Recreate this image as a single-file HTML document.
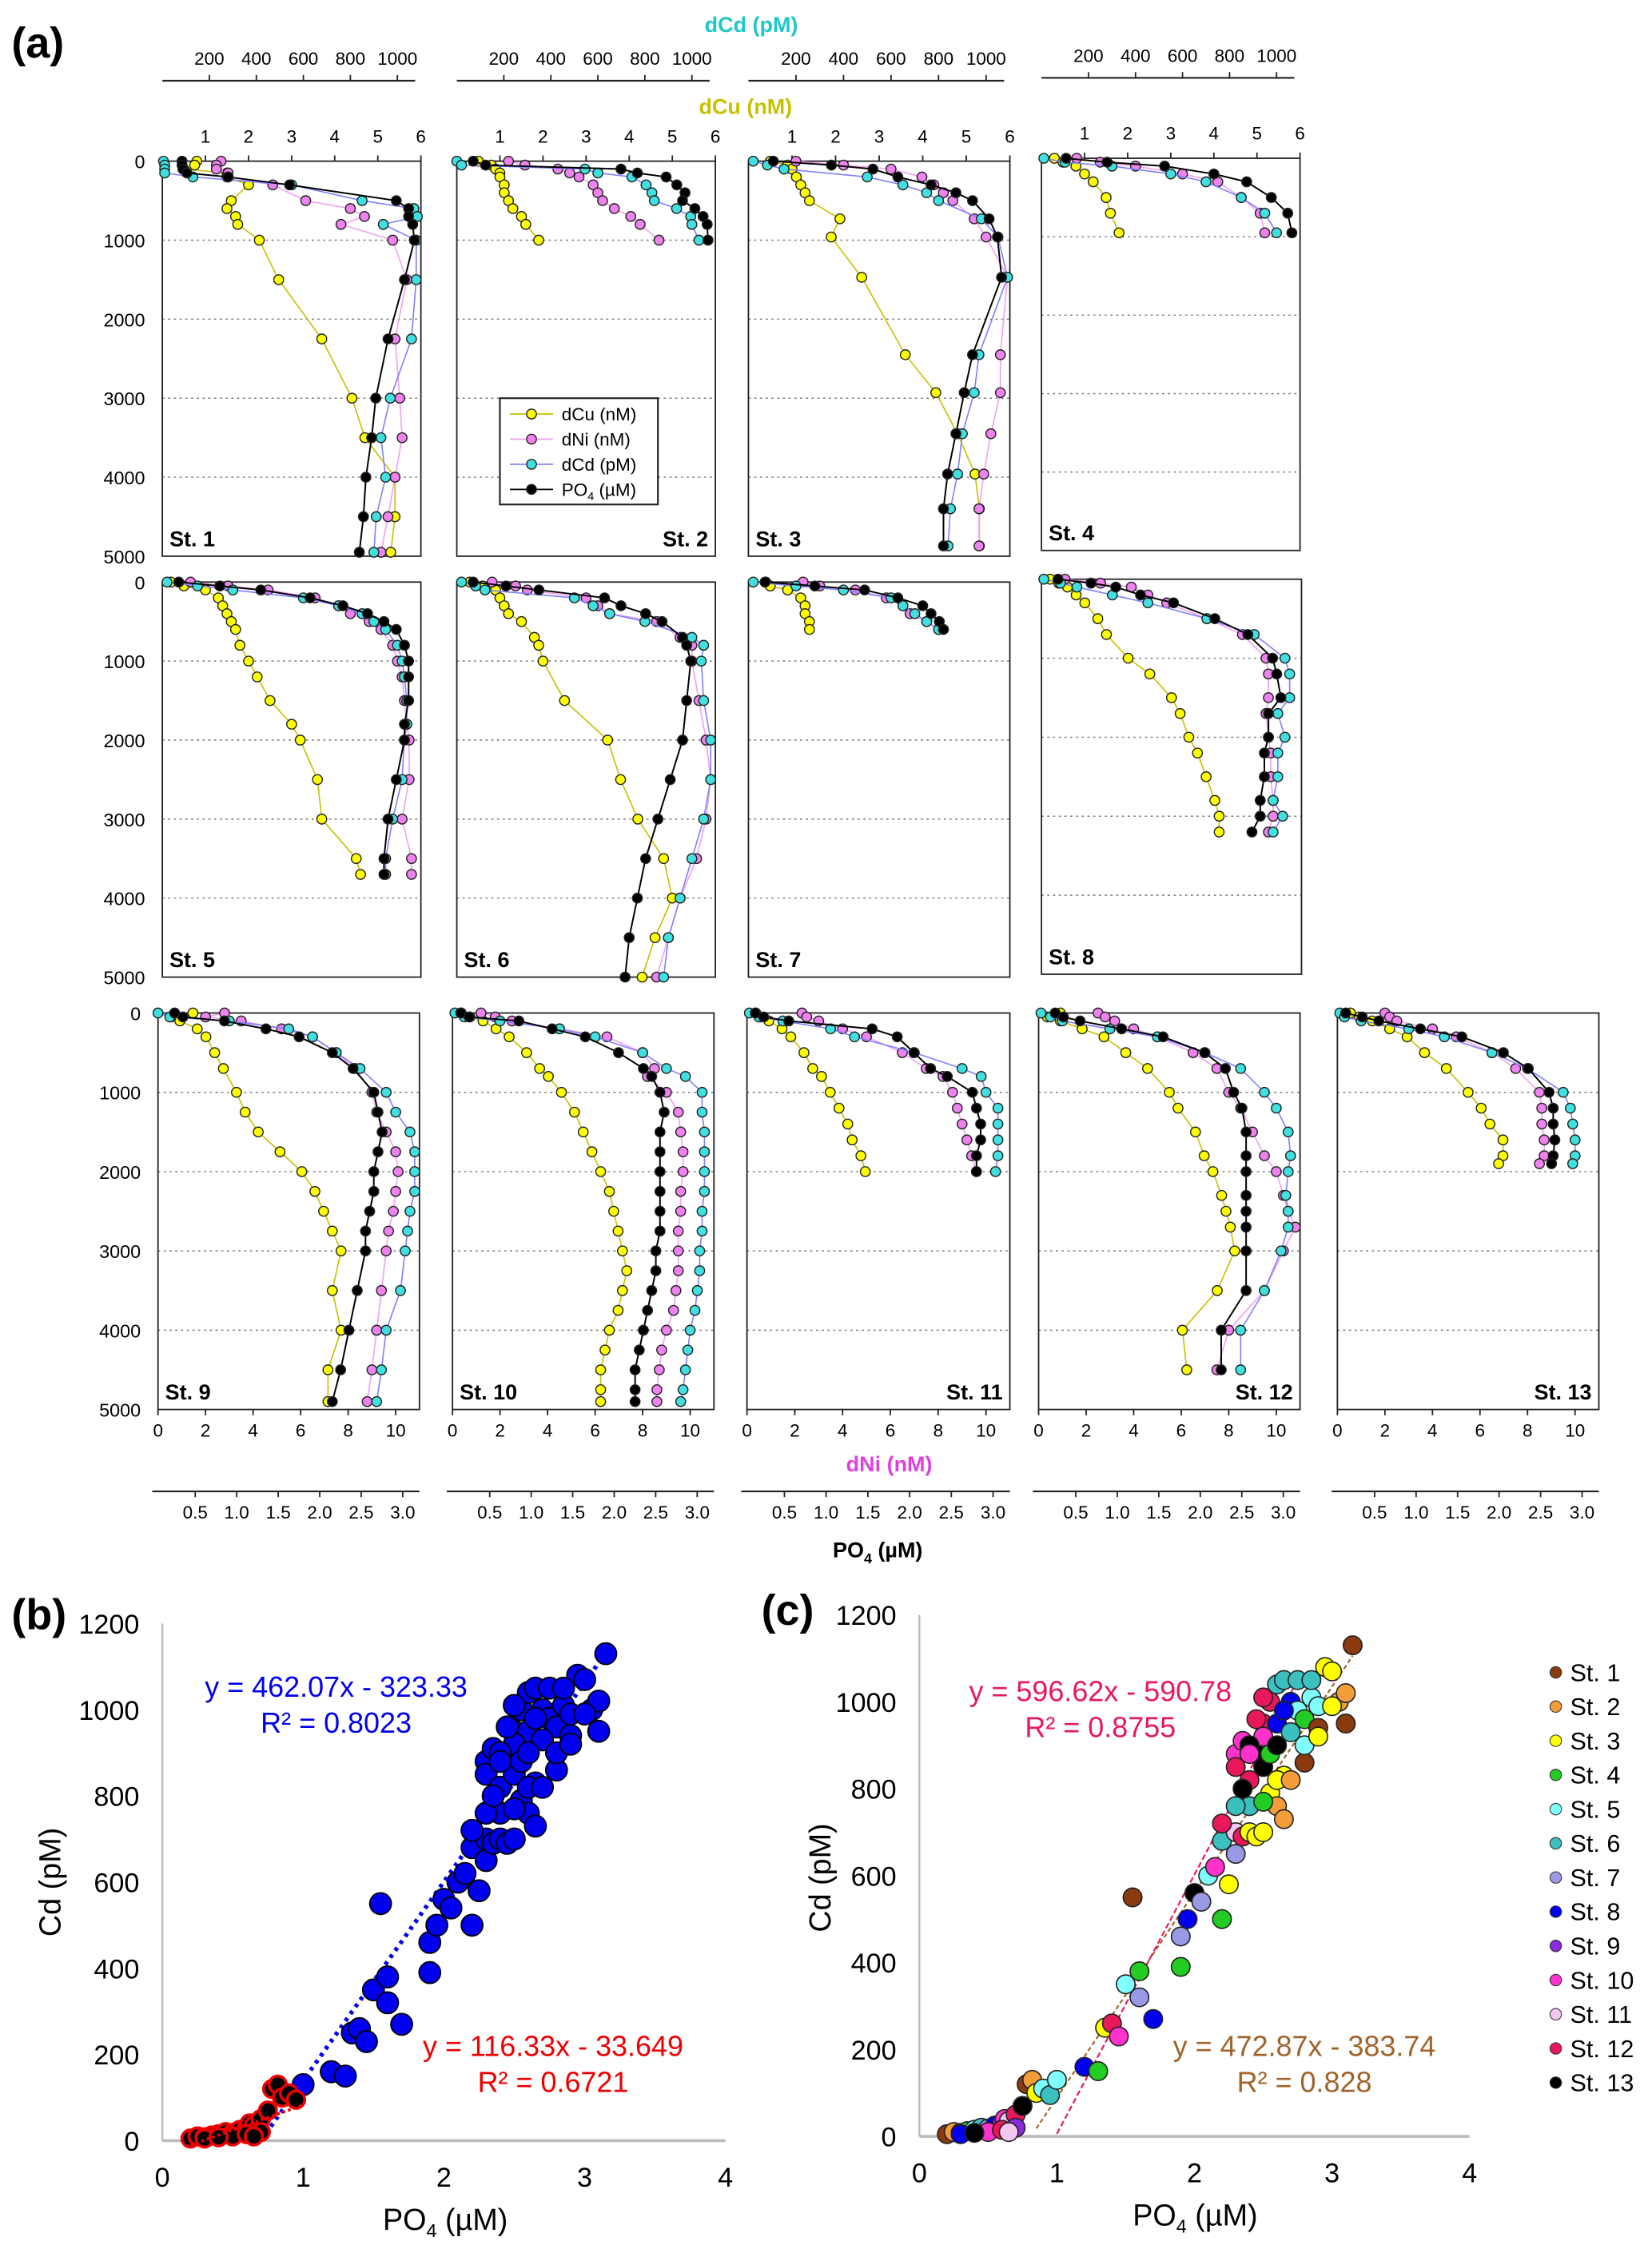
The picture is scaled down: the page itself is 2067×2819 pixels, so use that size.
<!DOCTYPE html>
<html><head><meta charset="utf-8"><style>
html,body{margin:0;padding:0;background:#fff}
svg{display:block;font-family:"Liberation Sans",sans-serif}
</style></head><body>
<svg id="fig" xmlns="http://www.w3.org/2000/svg" width="2067" height="2819" viewBox="0 0 1150 1568">
<rect width="1150" height="1568" fill="#fff"/>
<g id="root"></g>
</svg>
<script>
// ===== DATA =====
const stationNames = ["St. 1","St. 2","St. 3","St. 4","St. 5","St. 6","St. 7","St. 8","St. 9","St. 10","St. 11","St. 12","St. 13"];
const depthByStation = [
 [0,50,100,150,200,300,500,600,700,800,1000,1500,2250,3000,3500,4000,4500,4950],
 [0,50,100,150,200,300,400,500,600,700,800,1000],
 [0,50,100,200,300,400,500,730,960,1470,2450,2930,3450,3960,4400,4870],
 [0,50,100,200,300,500,700,950],
 [0,50,100,200,300,400,500,600,800,1000,1200,1500,1800,2000,2500,3000,3500,3700],
 [0,50,100,200,300,400,500,700,800,1000,1500,2000,2500,3000,3500,4000,4500,5000],
 [0,50,100,200,300,400,500,600],
 [0,50,100,200,300,500,700,1000,1200,1500,1700,2000,2200,2500,2800,3000,3200],
 [0,50,100,200,300,500,700,1000,1250,1500,1750,2000,2250,2500,2750,3000,3500,4000,4500,4900],
 [0,50,100,200,300,500,700,800,1000,1250,1500,1750,2000,2250,2500,2750,3000,3250,3500,3750,4000,4250,4500,4750,4900],
 [0,50,100,200,300,500,700,800,1000,1200,1400,1600,1800,2000],
 [0,50,100,200,300,500,700,1000,1200,1500,1800,2000,2300,2500,2700,3000,3500,4000,4500],
 [0,50,100,200,300,500,700,1000,1200,1400,1600,1800,1900]
];
const cuByStation = [
 [0.8,0.75,0.5,1.5,1.5,2.0,1.6,1.5,1.7,1.75,2.25,2.7,3.7,4.4,4.7,5.4,5.4,5.3],
 [0.5,0.8,0.9,1.0,1.0,1.1,1.1,1.2,1.3,1.5,1.6,1.9],
 [0.5,0.9,1.0,1.1,1.2,1.3,1.4,2.1,1.9,2.6,3.6,4.3,4.8,5.2,5.3,5.3],
 [0.3,0.5,0.8,1.0,1.2,1.5,1.6,1.8],
 [0.2,0.5,1.0,1.3,1.4,1.5,1.6,1.7,1.8,2.0,2.2,2.5,3.0,3.2,3.6,3.7,4.5,4.6],
 [0.3,0.6,0.9,1.0,1.1,1.2,1.5,1.8,1.9,2.0,2.5,3.5,3.8,4.2,4.8,5.0,4.6,4.3],
 [0.4,0.5,0.9,1.2,1.3,1.3,1.4,1.4],
 [0.2,0.4,0.6,0.8,1.0,1.3,1.5,2.0,2.5,3.0,3.2,3.4,3.6,3.8,4.0,4.1,4.1],
 [0.8,0.3,0.5,0.9,1.1,1.3,1.5,1.8,2.0,2.3,2.8,3.3,3.6,3.8,4.0,4.2,4.0,4.2,3.9,3.9],
 [0.2,0.4,0.7,1.0,1.3,1.7,2.0,2.2,2.5,2.8,3.0,3.2,3.4,3.6,3.7,3.8,3.9,4.0,3.9,3.8,3.6,3.5,3.4,3.4,3.4],
 [0.2,0.3,0.5,0.8,1.0,1.3,1.5,1.7,1.9,2.1,2.3,2.4,2.6,2.7],
 [0.5,0.2,0.5,1.0,1.5,2.0,2.5,3.0,3.2,3.6,3.8,4.0,4.2,4.3,4.4,4.5,4.1,3.3,3.4],
 [0.3,0.5,0.8,1.2,1.6,2.0,2.5,3.0,3.3,3.5,3.8,3.8,3.7]
];
const niByStation = [
 [2.5,2.3,2.3,2.8,2.8,4.7,6.1,8.0,8.6,7.6,9.8,10.4,9.9,10.1,10.2,9.9,9.6,9.3],
 [2.2,2.9,4.3,4.8,5.2,5.8,6.0,6.2,6.7,7.4,7.8,8.6],
 [2.0,4.0,6.0,7.3,7.8,8.2,8.6,9.5,10.0,10.9,10.6,10.6,10.2,9.9,9.7,9.7],
 [1.5,2.5,4.0,6.0,7.5,8.5,9.3,9.5],
 [1.2,2.8,4.5,6.5,7.5,8.0,8.8,9.3,9.8,10.0,10.2,10.3,10.4,10.5,10.5,10.2,10.6,10.6],
 [1.5,2.5,3.0,5.5,6.0,6.5,8.5,9.5,10.0,10.0,10.3,10.6,10.8,10.6,10.2,9.5,9.0,8.5],
 [2.3,3.0,4.5,5.8,6.5,6.8,7.5,8.0],
 [1.0,2.5,3.8,4.5,5.3,7.0,8.5,9.5,9.6,9.6,9.5,9.6,9.7,9.7,9.8,9.8,9.6],
 [2.8,2.0,3.5,5.2,6.5,7.5,8.3,9.0,9.2,9.6,10.0,10.1,10.0,9.9,9.7,9.6,9.4,9.2,9.0,8.8],
 [1.2,1.8,2.5,4.5,6.5,8.0,8.5,8.2,9.0,9.5,9.6,9.7,9.7,9.6,9.6,9.5,9.5,9.5,9.4,9.3,9.0,8.8,8.7,8.6,8.6],
 [2.3,2.5,3.0,4.0,5.0,6.5,7.5,8.2,8.6,8.8,9.0,9.2,9.4,9.6],
 [2.5,2.8,3.2,4.0,5.0,6.5,7.5,8.0,8.5,9.0,9.5,10.0,10.3,10.5,10.8,10.3,9.5,8.0,7.5],
 [2.0,2.2,2.5,4.0,5.0,6.5,7.5,8.5,8.6,8.6,8.7,8.7,8.5]
];
const cdByStation = [
 [5,10,10,10,130,550,850,1070,1085,940,1080,1080,1060,970,930,950,910,900],
 [0,20,545,600,745,805,830,840,935,995,1000,1030],
 [20,80,150,500,650,750,800,980,1050,1090,970,950,900,880,850,840],
 [10,100,300,550,700,850,950,1000],
 [20,150,300,600,750,850,900,950,1000,1020,1030,1040,1040,1030,1020,980,950,950],
 [20,80,120,500,580,650,800,1000,1050,1040,1050,1080,1080,1050,1000,950,900,880],
 [20,200,400,600,650,700,750,800],
 [10,80,150,300,450,700,900,1030,1050,1050,1000,1030,1000,1000,980,1020,980],
 [0,50,300,550,650,750,850,960,1000,1060,1080,1080,1080,1060,1050,1040,1020,960,940,920],
 [10,50,200,450,600,800,900,980,1050,1050,1060,1060,1060,1060,1050,1050,1040,1040,1030,1020,1000,990,980,970,960],
 [10,50,150,350,450,700,900,980,1000,1050,1050,1050,1050,1040],
 [10,50,100,300,500,700,850,950,1000,1050,1060,1050,1040,1050,1050,1020,950,850,850],
 [10,30,100,300,450,650,800,950,980,990,1000,1000,990]
];
const po4ByStation = [
 [0.24,0.24,0.25,0.3,0.8,1.55,2.85,3.0,3.0,3.05,3.07,2.95,2.75,2.6,2.55,2.48,2.45,2.4],
 [0.2,0.35,2.0,2.2,2.55,2.68,2.78,2.75,2.9,3.0,3.05,3.06],
 [0.3,1.0,1.5,1.8,2.2,2.5,2.7,2.9,3.0,3.05,2.7,2.6,2.5,2.4,2.35,2.35],
 [0.3,0.8,1.5,2.1,2.5,2.8,3.0,3.05],
 [0.2,0.7,1.2,1.8,2.2,2.5,2.7,2.85,2.95,3.0,3.0,3.0,2.95,2.95,2.85,2.75,2.7,2.7],
 [0.2,0.6,1.0,1.8,2.0,2.3,2.5,2.75,2.8,2.85,2.8,2.75,2.6,2.45,2.3,2.2,2.1,2.05],
 [0.2,0.8,1.4,1.8,2.1,2.2,2.3,2.35],
 [0.2,0.6,0.9,1.2,1.6,2.1,2.5,2.8,2.85,2.9,2.75,2.75,2.7,2.7,2.65,2.65,2.55],
 [0.2,0.3,0.8,1.3,1.7,2.1,2.35,2.6,2.65,2.7,2.65,2.6,2.6,2.55,2.5,2.5,2.4,2.3,2.2,2.1],
 [0.1,0.2,0.8,1.2,1.6,2.0,2.3,2.4,2.5,2.55,2.5,2.5,2.5,2.5,2.5,2.5,2.45,2.45,2.4,2.35,2.3,2.25,2.2,2.2,2.2],
 [0.1,0.2,0.5,1.5,1.8,2.0,2.2,2.4,2.7,2.75,2.8,2.8,2.75,2.75],
 [0.2,0.3,0.5,1.0,1.5,2.0,2.25,2.35,2.45,2.5,2.5,2.5,2.5,2.5,2.5,2.5,2.5,2.2,2.2],
 [0.1,0.3,0.5,1.0,1.5,2.0,2.3,2.55,2.6,2.6,2.62,2.6,2.58]
];
// scatter (b)/(c) samples
const scatterPo4 = [
 0.2,0.25,0.3,0.35,0.4,0.45,0.5,0.55,0.6,0.62,0.65,0.7,0.75,0.78,0.82,0.85,0.9,0.95,0.3,0.5,0.6,0.4,0.7,0.65,
 1.0,1.2,1.3,1.35,1.4,1.45,1.5,1.55,1.6,1.6,1.7,1.9,1.9,1.95,2.0,2.05,2.1,2.15,2.2,2.2,2.25,2.3,2.3,2.35,2.4,2.4,2.45,2.5,
 2.3,2.35,2.3,2.4,2.45,2.5,2.55,2.6,2.65,2.8,
 2.5,2.55,2.6,2.65,2.7,2.75,2.8,2.85,2.9,2.95,3.0,3.05,3.1,3.15,3.1,
 2.6,2.5,2.45,2.7,2.8,2.9,2.55,2.65,2.4,2.6,2.75,2.85,2.9,3.0,2.5,2.4,2.65,2.6,2.7,2.2,2.3,2.5,2.35
];
const scatterCd = [
 5,10,8,12,15,20,18,25,30,40,35,50,70,120,130,100,110,95,5,10,15,8,20,10,
 130,160,150,250,260,230,350,550,380,320,270,390,460,500,560,540,600,620,500,680,580,700,650,690,700,760,690,700,
 880,910,850,820,880,850,790,760,830,860,
 950,1000,1040,1050,1000,980,960,1010,940,1080,1070,1000,1020,1130,950,
 950,920,960,930,900,920,880,980,900,900,1050,1050,990,990,1010,880,730,820,820,720,760,770,800
];
const scatterStation = [
 1,2,3,4,5,6,7,8,9,10,11,12,13,1,2,3,5,6,8,10,12,13,9,11,
 5,8,4,3,12,10,5,1,4,7,8,4,7,8,13,7,5,10,4,6,3,11,7,12,3,6,3,3,
 10,10,12,12,13,13,3,2,3,1,
 12,12,6,6,8,5,4,5,1,3,3,2,2,1,1,
 8,10,12,6,5,3,4,8,13,13,6,6,5,3,12,10,2,3,2,12,6,4,13
];
const depthTicks = [0,1000,2000,3000,4000,5000];
const cdTicks = [200,400,600,800,1000];
const cuTicks = [1,2,3,4,5,6];
const niTicks = [0,2,4,6,8,10];
const po4Ticks = [0.5,1.0,1.5,2.0,2.5,3.0];
const scatterYTicks = [0,200,400,600,800,1000,1200];
const scatterXTicks = [0,1,2,3,4];
const fitB = [[462.07,-323.33,0.7,3.15],[116.33,-33.649,0.2,1.0]];
const fitC = [[596.62,-590.78,1.0,2.75],[472.87,-383.74,0.85,3.15]];
const stationColors = ["#8B3A0F","#F39C3A","#FFFF00","#22CC22","#7FFFFF","#3CBFBF","#9999E6","#0000EE","#8A2BE2","#FF33CC","#F2C8F2","#E8185A","#000000"];

// ===== LAYOUT =====
const panels = [
 {L:113,T:112,W:180,H:275,lab:"left"},{L:318,T:112,W:180,H:275,lab:"right"},{L:521,T:112,W:182,H:275,lab:"left"},{L:725,T:110,W:180,H:273,lab:"left"},
 {L:113,T:405,W:180,H:275,lab:"left"},{L:318,T:405,W:180,H:275,lab:"left"},{L:521,T:405,W:182,H:275,lab:"left"},{L:725,T:403,W:181,H:275,lab:"left"},
 {L:110,T:705,W:182,H:276,lab:"left"},{L:315,T:705,W:182,H:276,lab:"left"},{L:520,T:705,W:183,H:276,lab:"right"},{L:723,T:705,W:182,H:276,lab:"right"},{L:931,T:705,W:182,H:276,lab:"right"}
];
const NS="http://www.w3.org/2000/svg";
const root=document.getElementById('root');
function mk(tag,attrs,parent,text){const e=document.createElementNS(NS,tag);for(const k in attrs)e.setAttribute(k,attrs[k]);if(text!==undefined)e.textContent=text;(parent||root).appendChild(e);return e;}

const series=[
 {data:cuByStation,max:6,line:"#C8C000",fill:"#FFFF00",name:"cu"},
 {data:niByStation,max:11,line:"#F0A0F0",fill:"#EE82EE",name:"ni"},
 {data:cdByStation,max:1100,line:"#8080FF",fill:"#40E0E0",name:"cd"},
 {data:po4ByStation,max:3.15,line:"#000",fill:"#000",name:"po4"}
];

// ===== PANEL (a) =====
let t=mk('text',{x:8,y:40,'font-size':30,'font-weight':'bold'},root,"(a)");


t=mk('text',{x:523,y:22,'font-size':15,'font-weight':'bold',fill:'#1EC8C8','text-anchor':'middle'},root,"dCd (pM)");


t=mk('text',{x:519,y:79,'font-size':15,'font-weight':'bold',fill:'#C8C000','text-anchor':'middle'},root,"dCu (nM)");


t=mk('text',{x:619,y:1024,'font-size':15,'font-weight':'bold',fill:'#E040E0','text-anchor':'middle'},root,"dNi (nM)");


t=mk('text',{x:611,y:1084,'font-size':15,'font-weight':'bold','text-anchor':'middle'},root,"");


t.innerHTML='PO<tspan dy="4" font-size="10">4</tspan><tspan dy="-4"> (µM)</tspan>';

panels.forEach((p,i)=>{
  const g=mk('g',{});
  
  
  const dy=d=>p.T+d/5000*p.H;
  depthTicks.slice(1,5).forEach(d=>{
    const l=mk('line',{x1:p.L,x2:p.L+p.W,y1:dy(d),y2:dy(d),stroke:'#777','stroke-width':0.8,'stroke-dasharray':'1.5,2.5'},g);
    
    
  });
  const r=mk('rect',{x:p.L,y:p.T,width:p.W,height:p.H,fill:'none',stroke:'#222','stroke-width':1},g);
  
  
  const col=i<4?i:(i<8?i-4:i-8);
  if(col===0){
    depthTicks.forEach(d=>{
      const tt=mk('text',{x:p.L-12,y:dy(d)+5,'font-size':13,'text-anchor':'end'},g,String(d));
      
      
    });
  }
  if(i<4){
    const ay=p.T-56;
    const al=mk('line',{x1:p.L,x2:p.L+p.W-4,y1:ay,y2:ay,stroke:'#222','stroke-width':1.2},g);
    
    
    cdTicks.forEach(v=>{
      const x=p.L+v/1100*p.W;
      mk('line',{x1:x,x2:x,y1:ay,y2:ay-4,stroke:'#222'},g);
      const tt=mk('text',{x:x,y:ay-11,'font-size':12.5,'text-anchor':'middle'},g,String(v));
      
      
    });
    cuTicks.forEach(v=>{
      const x=p.L+v/6*p.W;
      mk('line',{x1:x,x2:x,y1:p.T,y2:p.T-4,stroke:'#222'},g);
      const tt=mk('text',{x:x,y:p.T-13,'font-size':12.5,'text-anchor':'middle'},g,String(v));
      
      
    });
  }
  if(i>=8){
    const b=p.T+p.H;
    niTicks.forEach(v=>{
      const x=p.L+v/11*p.W;
      mk('line',{x1:x,x2:x,y1:b,y2:b+4,stroke:'#222'},g);
      const tt=mk('text',{x:x,y:b+19,'font-size':12.5,'text-anchor':'middle'},g,String(v));
      
      
    });
    const ay=b+57;
    const al=mk('line',{x1:p.L-4,x2:p.L+p.W,y1:ay,y2:ay,stroke:'#222','stroke-width':1.2},g);
    
    
    po4Ticks.forEach(v=>{
      const x=p.L+v/3.15*p.W-3;
      mk('line',{x1:x,x2:x,y1:ay,y2:ay+4,stroke:'#222'},g);
      const tt=mk('text',{x:x,y:ay+19,'font-size':12.5,'text-anchor':'middle'},g,v.toFixed(1));
      
      
    });
  }
  const depths=depthByStation[i];
  series.forEach(s=>{
    const vals=s.data[i];
    const pts=vals.map((v,k)=>[p.L+v/s.max*p.W,dy(depths[k])]);
    const pl=mk('polyline',{points:pts.map(q=>q.join(',')).join(' '),fill:'none',stroke:s.line,'stroke-width':s.name==='po4'?1.1:0.9},g);
    
    
    pts.forEach(q=>{
      const c=mk('circle',{cx:q[0],cy:q[1],r:3.4,fill:s.fill,stroke:'#222','stroke-width':0.8},g);
      
      
    });
  });
  const lx=p.lab==='left'?p.L+5:p.L+p.W-5;
  const st=mk('text',{x:lx,y:p.T+p.H-7,'font-size':15,'font-weight':'bold','text-anchor':p.lab==='left'?'start':'end'},g,"St. "+(i+1));
  
  
});

(function(){
  const g=mk('g',{});
  
  
  mk('rect',{x:348,y:277,width:110,height:74,fill:'#fff',stroke:'#222','stroke-width':1.2},g);
  const labels=['dCu (nM)','dNi (nM)','dCd (pM)','PO4'];
  series.forEach((s,k)=>{
    const y=288+k*17.5;
    mk('line',{x1:355,x2:385,y1:y,y2:y,stroke:s.line,'stroke-width':1},g);
    mk('circle',{cx:370,cy:y,r:3.4,fill:s.fill,stroke:'#222','stroke-width':0.8},g);
    const tt=mk('text',{x:391,y:y+4.5,'font-size':12.5},g,k<3?labels[k]:'');
    
    
    if(k===3)tt.innerHTML='PO<tspan dy="3" font-size="8">4</tspan><tspan dy="-3"> (µM)</tspan>';
  });
})();

function scatterAxes(ox,oy,sx,sy,label,labx,titleX,ylabX,name){
  const g=mk('g',{});
  
  
  mk('line',{x1:ox,x2:ox,y1:oy,y2:oy-1200*sy,stroke:'#BBB','stroke-width':1.3},g);
  mk('line',{x1:ox,x2:ox+4*sx,y1:oy,y2:oy,stroke:'#BBB','stroke-width':2},g);
  scatterYTicks.forEach(v=>{
    const tt=mk('text',{x:ox-16,y:oy-v*sy+7,'font-size':19,'text-anchor':'end'},g,String(v));
    
    
  });
  scatterXTicks.forEach(v=>{
    const tt=mk('text',{x:ox+v*sx,y:oy+32,'font-size':19,'text-anchor':'middle'},g,String(v));
    
    
  });
  const pl=mk('text',{x:labx,y:oy-356,'font-size':30,'font-weight':'bold'},g,label);
  
  
  const xt=mk('text',{x:titleX,y:oy+62,'font-size':21,'text-anchor':'middle'},g,'');
  
  
  xt.innerHTML='PO<tspan dy="5" font-size="13">4</tspan><tspan dy="-5"> (µM)</tspan>';
  const yt=mk('text',{x:ylabX,y:oy-180,'font-size':21,'text-anchor':'middle',transform:`rotate(-90 ${ylabX} ${oy-180})`},g,'Cd (pM)');
  
  
  return g;
}
function fitLine(g,f,ox,oy,sx,sy,color,dash,w,name){
  const x1=f[2],x2=f[3];
  const l=mk('line',{x1:ox+x1*sx,y1:oy-(f[0]*x1+f[1])*sy,x2:ox+x2*sx,y2:oy-(f[0]*x2+f[1])*sy,stroke:color,'stroke-width':w,'stroke-dasharray':dash},g);
  
  
}
function eqText(g,x,y,color,t1,r2,name){
  const a=mk('text',{x:x,y:y,'font-size':20,fill:color,'text-anchor':'middle'},g,t1);
  
  
  const b=mk('text',{x:x,y:y+25,'font-size':20,fill:color,'text-anchor':'middle'},g,r2);
  
  
}

// ===== PANEL (b) =====
(function(){
  const ox=113,oy=1490,sx=98,sy=0.3;
  const g=scatterAxes(ox,oy,sx,sy,'(b)',8,310,42,'panel-b');
  fitLine(g,fitB[0],ox,oy,sx,sy,'#0000EE','2.5,3.5',3,'blue-trendline');
  scatterPo4.forEach((v,k)=>{
    if(v<0.97)return;
    const c=mk('circle',{cx:ox+v*sx,cy:oy-scatterCd[k]*sy,r:7.5,fill:'#0000EE',stroke:'#000','stroke-width':1},g);
    
    
  });
  scatterPo4.forEach((v,k)=>{
    if(v>=0.97)return;
    const c=mk('circle',{cx:ox+v*sx,cy:oy-scatterCd[k]*sy,r:6,fill:'#000',stroke:'#E00','stroke-width':2},g);
    
    
  });
  fitLine(g,fitB[1],ox,oy,sx,sy,'#E00','2,2',2,'red-trendline');
  eqText(g,234,1181,'#0000EE','y = 462.07x - 323.33','R² = 0.8023','blue-fit');
  eqText(g,385,1431,'#EE0000','y = 116.33x - 33.649','R² = 0.6721','red-fit');
})();

// ===== PANEL (c) =====
(function(){
  const ox=640,oy=1487,sx=95.75,sy=0.3025;
  const g=scatterAxes(ox,oy,sx,sy,'(c)',530,832,578,'panel-c');
  fitLine(g,fitC[1],ox,oy,sx,sy,'#A0632A','3,2',1.2,'brown-trendline');
  fitLine(g,fitC[0],ox,oy,sx,sy,'#E8185A','4,2',1.2,'pink-trendline');
  scatterPo4.forEach((v,k)=>{
    const c=mk('circle',{cx:ox+v*sx,cy:oy-scatterCd[k]*sy,r:6.5,fill:stationColors[scatterStation[k]-1],stroke:'#222','stroke-width':0.9},g);
    
    
  });
  eqText(g,766,1184,'#E8185A','y = 596.62x - 590.78','R² = 0.8755','pink-fit');
  eqText(g,908,1431,'#A0632A','y = 472.87x - 383.74','R² = 0.828','brown-fit');
  const lg=mk('g',{},g);
  
  
  stationNames.forEach((n,i)=>{
    const y=1164+i*23.8;
    mk('circle',{cx:1083,cy:y,r:4,fill:stationColors[i],stroke:'#333','stroke-width':0.6},lg);
    const tt=mk('text',{x:1093,y:y+6,'font-size':17},lg,n);
    
    
  });
})();
</script>
</body></html>
